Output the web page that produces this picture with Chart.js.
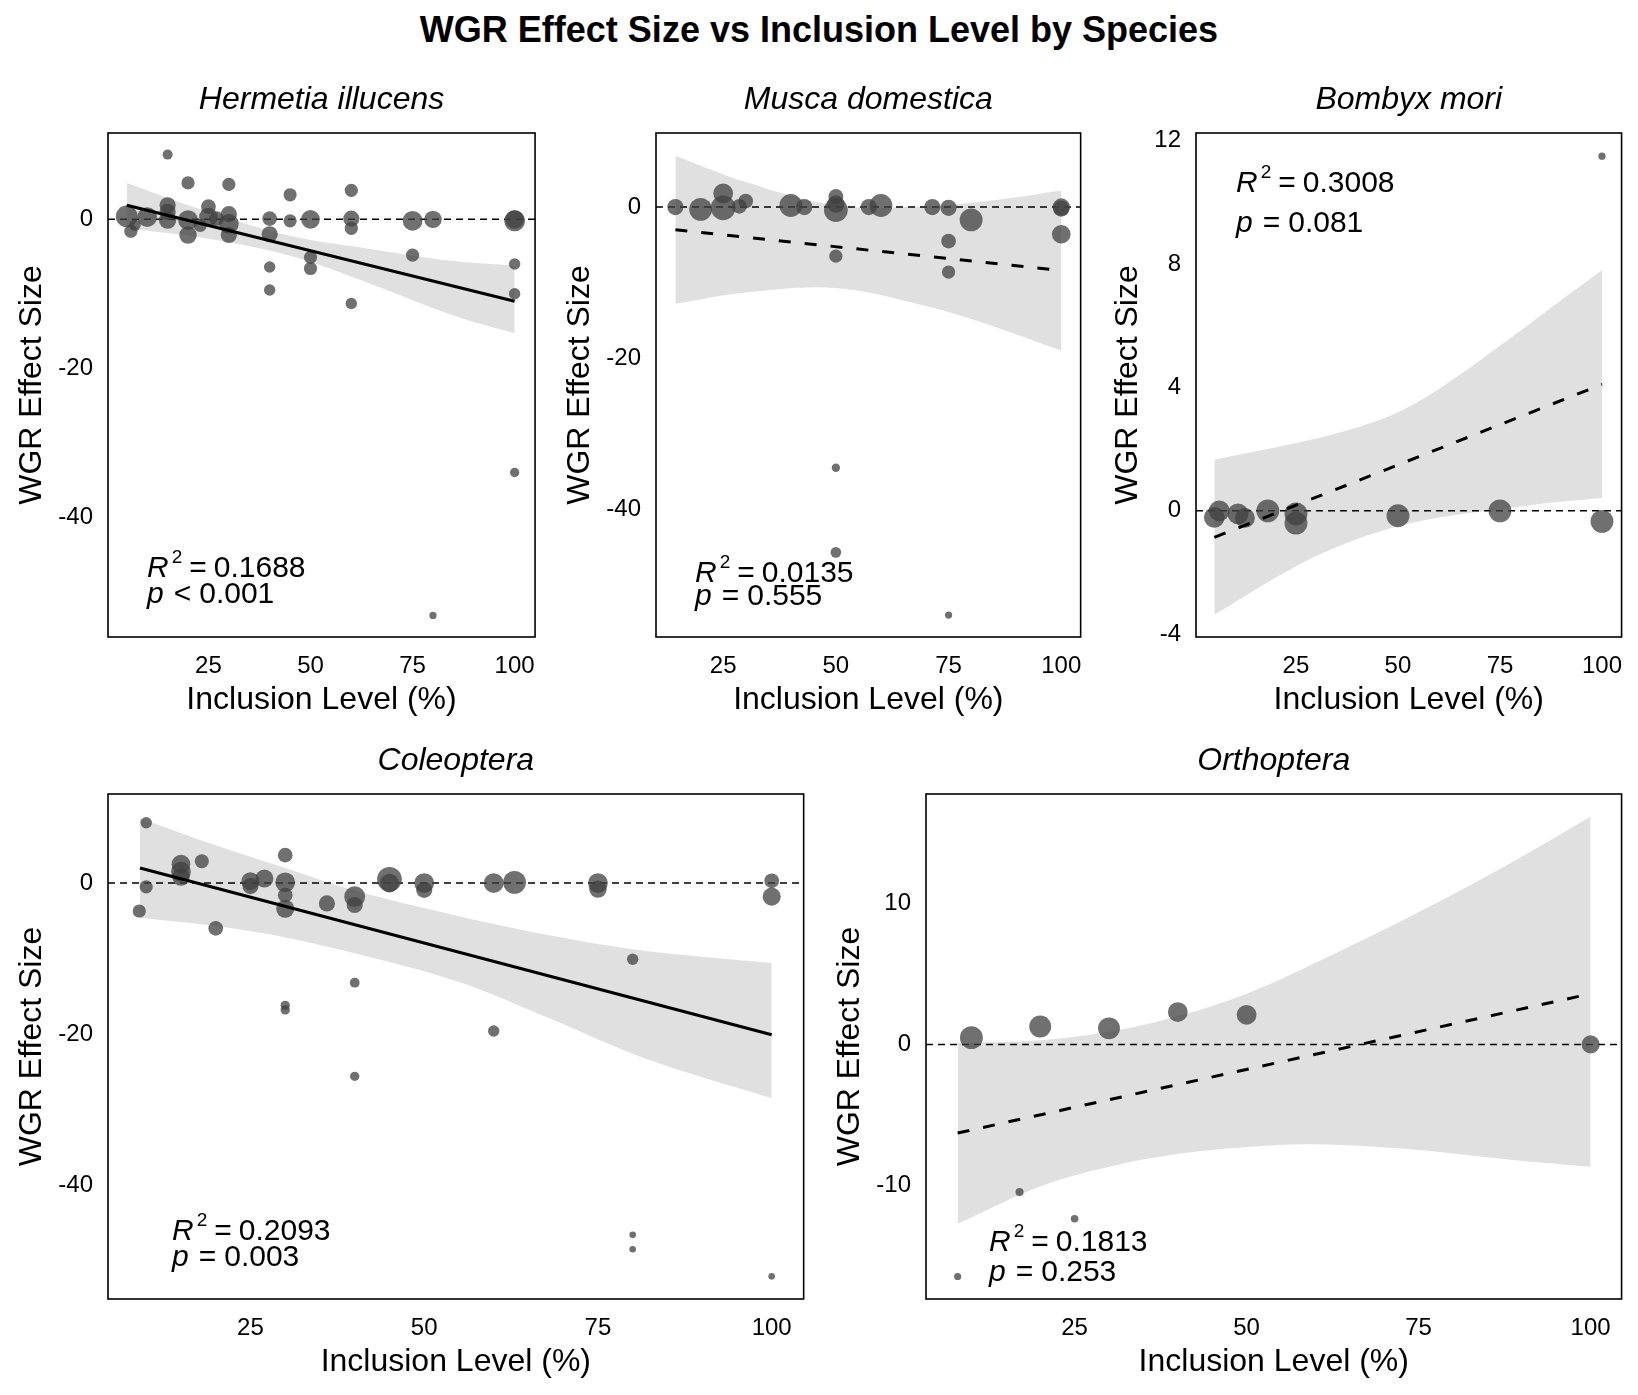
<!DOCTYPE html>
<html>
<head>
<meta charset="utf-8">
<script src="https://cdn.jsdelivr.net/npm/chart.js@4.4.1/dist/chart.umd.min.js"></script>
<style>
  body { margin: 0; background: #fff; width: 1638px; height: 1395px; position: relative; overflow: hidden; font-family: "Liberation Sans", Arial, sans-serif; }
  #title { position: absolute; left: 0; top: 8px; width: 1638px; margin: 0; text-align: center; font-size: 36px; line-height: 44px; font-weight: bold; color: #000; }
  canvas { position: absolute; }
</style>
</head>
<body>
<h1 id="title">WGR Effect Size vs Inclusion Level by Species</h1>
<script>
// tick labels
const xTicks = [25, 50, 75, 100];
const hermYTicks = [0, -20, -40];
const muscaYTicks = [0, -20, -40];
const bombYTicks = [12, 8, 4, 0, -4];
const coleoYTicks = [0, -20, -40];
const orthoYTicks = [10, 0, -10];

// Hermetia illucens: inclusion %, effect size, weight
const hermX = [5, 6, 7, 10, 15, 15, 15, 15, 20, 20, 20, 23, 25, 25, 27, 30, 30, 30, 30, 40, 40, 40, 40, 45, 45, 50, 50, 50, 60, 60, 60, 60, 75, 75, 80, 80, 100, 100, 100, 100, 100];
const hermY = [0.4, -1.6, -0.8, 0.3, 8.7, 1.9, 1.0, -0.1, 4.9, -0.1, -2.1, -0.8, 1.7, 0.3, 0.1, 4.7, 0.7, -0.6, -2.1, 0.1, -2.0, -6.4, -9.5, 3.3, -0.2, 0.0, -5.1, -6.6, 3.9, 0.1, -1.2, -11.3, -0.2, -4.8, 0.0, -53.2, -0.2, 0.0, -6.0, -10.0, -34.0];
const hermW = [11, 4, 3, 9, 2.3, 6, 6, 7, 4, 9, 7, 4, 5, 8, 5, 4, 6, 9, 6, 5, 6, 3, 3, 4, 4, 8, 4, 4, 4, 6, 4, 3, 9, 4, 7, 1.2, 10, 8, 3, 3, 2];
const hermBandX = [5, 25, 45, 65, 85, 100];
const hermBandHi = [4.9, 1.0, -2.2, -4.0, -5.6, -6.2];
const hermBandLo = [-1.2, -2.6, -4.9, -8.7, -12.9, -15.3];
const hermFitX = [5, 100];
const hermFitY = [1.9, -11.0];

// Musca domestica
const muscaX = [14.4, 20, 25, 25, 28.6, 30, 40, 43, 50, 50, 50, 50, 50, 50, 57.3, 60, 71.4, 75, 75, 75, 75, 80, 100, 100, 100];
const muscaY = [0, -0.3, 1.8, -0.1, 0.1, 0.8, 0.2, 0, 1.4, 0.4, -0.4, -6.5, -34.5, -45.7, 0, 0.2, 0, -0.1, -4.5, -8.6, -54, -1.7, 0, -0.2, -3.6];
const muscaW = [6, 12, 9, 14, 5, 5, 12, 6, 5, 7, 13, 4, 1.6, 2.6, 6, 12, 6, 6, 5, 4, 1.2, 12, 7, 6, 8];
const muscaBandX = [14.4, 30, 50, 70, 85, 100];
const muscaBandHi = [6.8, 3.3, 0.2, 0.1, 0.9, 2.2];
const muscaBandLo = [-12.8, -11.3, -10.7, -13.1, -15.8, -19.0];
const muscaFitX = [14.4, 100];
const muscaFitY = [-3.0, -8.4];

// Bombyx mori
const bombX = [5, 6.2, 10.8, 12.5, 18.1, 25, 25, 50, 75, 100, 100];
const bombY = [-0.21, 0, -0.1, -0.23, 0, -0.1, -0.4, -0.16, 0, -0.34, 11.5];
const bombW = [10, 10, 10, 9, 12, 12, 12, 12, 12, 12, 1.2];
const bombBandX = [5, 25, 37.3, 50, 61.7, 75, 86.1, 100];
const bombBandHi = [1.66, 2.2, 2.6, 3.2, 4.1, 5.35, 6.45, 7.8];
const bombBandLo = [-3.37, -1.8, -1.05, -0.5, -0.18, 0.05, 0.25, 0.42];
const bombFitX = [5, 100];
const bombFitY = [-0.86, 4.1];

// Coleoptera
const coleoX = [10, 10, 9, 15, 15, 15, 18, 20, 25, 25, 27, 30, 30, 30, 30, 30, 30, 36, 40, 40, 40, 40, 45, 45, 50, 50, 60, 60, 63, 75, 75, 80, 80, 80, 100, 100, 100];
const coleoY = [8.0, -0.5, -3.7, 2.5, 1.5, 0.8, 2.9, -6.0, 0.25, -0.4, 0.6, 3.7, 0.1, -1.6, -3.4, -16.2, -16.8, -2.7, -1.8, -2.9, -13.2, -25.6, 0.5, 0, 0, -0.9, 0, -19.6, 0.1, 0, -0.8, -10.1, -46.6, -48.5, 0.3, -1.8, -52.1];
const coleoW = [3, 4, 4, 8, 9, 7, 4.5, 5, 7.5, 6, 7.5, 5, 9, 5, 7.5, 2, 2, 6, 10, 6, 2.2, 2, 14, 8, 9, 6, 9, 3, 12, 9, 7, 3, 1, 1, 5, 7.5, 1];
const coleoBandX = [9.1, 20, 30, 40, 55, 68, 82, 100];
const coleoBandHi = [8.6, 5.0, 2.0, -1.0, -4.4, -6.9, -9.0, -10.6];
const coleoBandLo = [-4.6, -5.7, -7.2, -9.3, -13.1, -17.9, -23.3, -28.5];
const coleoFitX = [9.1, 100];
const coleoFitY = [2.0, -20.1];

// Orthoptera
const orthoX = [10, 20, 30, 40, 50, 100, 17, 25, 8];
const orthoY = [0.48, 1.27, 1.14, 2.3, 2.1, 0, -10.5, -12.4, -16.5];
const orthoW = [12, 11, 11, 9, 9, 7.5, 1.5, 1.3, 1.2];
const orthoBandX = [8, 20, 30, 40, 50, 60, 75, 88.4, 100];
const orthoBandHi = [0.1, 0.3, 0.9, 2.0, 3.6, 5.8, 9.4, 12.9, 16.2];
const orthoBandLo = [-12.75, -10.1, -8.7, -7.8, -7.3, -7.1, -7.5, -8.2, -8.7];
const orthoFitX = [8, 100];
const orthoFitY = [-6.3, 3.6];

// model stats
const statR2 = ['0.1688', '0.0135', '0.3008', '0.2093', '0.1813'];
const statP = [['<', '0.001'], ['=', '0.555'], ['=', '0.081'], ['=', '0.003'], ['=', '0.253']];
const significant = [true, false, false, true, false];

const FONT = '"Liberation Sans", Arial, sans-serif';
const pointRadius = w => 3.3 * Math.sqrt(w);

// panel boxes in page pixels [left, top, right, bottom]
const panels = [
  { name: 'Hermetia illucens', x: hermX, y: hermY, w: hermW, bx: hermBandX, hi: hermBandHi, lo: hermBandLo, fx: hermFitX, fy: hermFitY, yTicks: hermYTicks,
    box: [108, 133, 536, 637], xr: [0.4, 105], yr: [-56.1, 11.6], yTitleX: 32, note: [39, 444, 470] },
  { name: 'Musca domestica', x: muscaX, y: muscaY, w: muscaW, bx: muscaBandX, hi: muscaBandHi, lo: muscaBandLo, fx: muscaFitX, fy: muscaFitY, yTicks: muscaYTicks,
    box: [656, 133, 1083, 637], xr: [10.1, 104.3], yr: [-56.9, 9.8], yTitleX: 580, note: [39, 449, 472] },
  { name: 'Bombyx mori', x: bombX, y: bombY, w: bombW, bx: bombBandX, hi: bombBandHi, lo: bombBandLo, fx: bombFitX, fy: bombFitY, yTicks: bombYTicks,
    box: [1196, 133, 1623, 637], xr: [0.5, 104.8], yr: [-4.09, 12.25], yTitleX: 1128, note: [40, 59, 99] },
  { name: 'Coleoptera', x: coleoX, y: coleoY, w: coleoW, bx: coleoBandX, hi: coleoBandHi, lo: coleoBandLo, fx: coleoFitX, fy: coleoFitY, yTicks: coleoYTicks,
    box: [108, 794, 806, 1299], xr: [4.5, 104.6], yr: [-55.1, 11.8], yTitleX: 32, note: [64, 446, 472] },
  { name: 'Orthoptera', x: orthoX, y: orthoY, w: orthoW, bx: orthoBandX, hi: orthoBandHi, lo: orthoBandLo, fx: orthoFitX, fy: orthoFitY, yTicks: orthoYTicks,
    box: [926, 794, 1623, 1299], xr: [3.4, 104.5], yr: [-18.1, 17.8], yTitleX: 850, note: [63, 457, 487] }
];

// frame + R²/p labels
const framePlugin = {
  id: 'frame',
  afterDraw(chart, args, o) {
    const { ctx, chartArea: a } = chart;
    ctx.save();
    ctx.strokeStyle = '#000';
    ctx.lineWidth = 1.6;
    ctx.setLineDash([]);
    ctx.strokeRect(a.left, a.top, a.width, a.height);

    ctx.fillStyle = '#000';
    ctx.textBaseline = 'alphabetic';
    ctx.textAlign = 'left';
    let x = a.left + o.note[0], y = a.top + o.note[1];
    ctx.font = `italic 30px ${FONT}`;
    ctx.fillText('R', x, y);
    x += ctx.measureText('R').width + 3;
    ctx.font = `19px ${FONT}`;
    ctx.fillText('2', x, y - 14);
    x += ctx.measureText('2').width + 7;
    ctx.font = `30px ${FONT}`;
    ctx.fillText('=', x, y);
    x += ctx.measureText('=').width + 7;
    ctx.fillText(o.r2, x, y);

    x = a.left + o.note[0]; y = a.top + o.note[2];
    ctx.font = `italic 30px ${FONT}`;
    ctx.fillText('p', x, y);
    x += ctx.measureText('p').width + 10;
    ctx.font = `30px ${FONT}`;
    ctx.fillText(o.p[0], x, y);
    x += ctx.measureText(o.p[0]).width + 8;
    ctx.fillText(o.p[1], x, y);
    ctx.restore();
  }
};

function makePanel(p, i) {
  const [L, T, R, B] = p.box;
  const left = p.yTitleX - 16, top = T - 49, right = R + 10, bottom = B + 79;
  const canvas = document.createElement('canvas');
  canvas.width = right - left;
  canvas.height = bottom - top;
  canvas.style.left = left + 'px';
  canvas.style.top = top + 'px';
  document.body.appendChild(canvas);

  const clear = 'rgba(0,0,0,0)';
  const tickFont = { family: FONT, size: 24, lineHeight: 1 };
  const titleFont = { family: FONT, size: 32, lineHeight: 1 };

  return new Chart(canvas, {
    type: 'scatter',
    data: {
      datasets: [
        { type: 'line', data: p.bx.map((x, k) => ({ x, y: p.hi[k] })), borderColor: clear, borderWidth: 0, pointRadius: 0,
          fill: '+1', backgroundColor: '#e0e0e0', tension: 0.35, order: 5 },
        { type: 'line', data: p.bx.map((x, k) => ({ x, y: p.lo[k] })), borderColor: clear, borderWidth: 0, pointRadius: 0,
          fill: false, tension: 0.35, order: 5 },
        { type: 'line', data: [{ x: p.xr[0], y: 0 }, { x: p.xr[1], y: 0 }], borderColor: '#000', borderWidth: 1.5,
          borderDash: [7, 5], pointRadius: 0, fill: false, order: 4 },
        { data: p.x.map((x, k) => ({ x, y: p.y[k] })), pointRadius: p.w.map(pointRadius), pointBackgroundColor: 'rgba(64,64,64,0.75)',
          backgroundColor: 'rgba(64,64,64,0.75)', pointBorderWidth: 0, borderWidth: 0, order: 3 },
        { type: 'line', data: p.fx.map((x, k) => ({ x, y: p.fy[k] })), borderColor: '#000', borderWidth: 3,
          borderDash: significant[i] ? [] : [12, 14], pointRadius: 0, fill: false, order: 2 }
      ]
    },
    options: {
      responsive: false,
      animation: false,
      events: [],
      layout: { padding: { left: 0, top: 0, right: right - R, bottom: 0 } },
      plugins: {
        legend: { display: false },
        tooltip: { enabled: false },
        title: { display: true, text: p.name, fullSize: false, color: '#000',
                 font: { family: FONT, size: 32, style: 'italic', weight: 'normal', lineHeight: 1 },
                 padding: { top: 0, bottom: 17 } },
        frame: { note: p.note, r2: statR2[i], p: statP[i] }
      },
      scales: {
        x: {
          type: 'linear', min: p.xr[0], max: p.xr[1],
          grid: { display: false, drawTicks: false }, border: { display: false },
          ticks: { color: '#000', font: tickFont, padding: 17 },
          afterBuildTicks: s => { s.ticks = xTicks.map(v => ({ value: v })); },
          afterFit: s => { s.height = bottom - B; s.paddingLeft = 0; s.paddingRight = 0; },
          title: { display: true, text: 'Inclusion Level (%)', color: '#000', font: titleFont, padding: 0 }
        },
        y: {
          type: 'linear', min: p.yr[0], max: p.yr[1],
          grid: { display: false, drawTicks: false }, border: { display: false },
          ticks: { color: '#000', font: tickFont, padding: 15 },
          afterBuildTicks: s => { s.ticks = p.yTicks.map(v => ({ value: v })); },
          afterFit: s => { s.width = L - left; s.paddingTop = 0; s.paddingBottom = 0; },
          title: { display: true, text: 'WGR Effect Size', color: '#000', font: titleFont, padding: 0 }
        }
      }
    },
    plugins: [framePlugin]
  });
}

panels.forEach(makePanel);
</script>
</body>
</html>
